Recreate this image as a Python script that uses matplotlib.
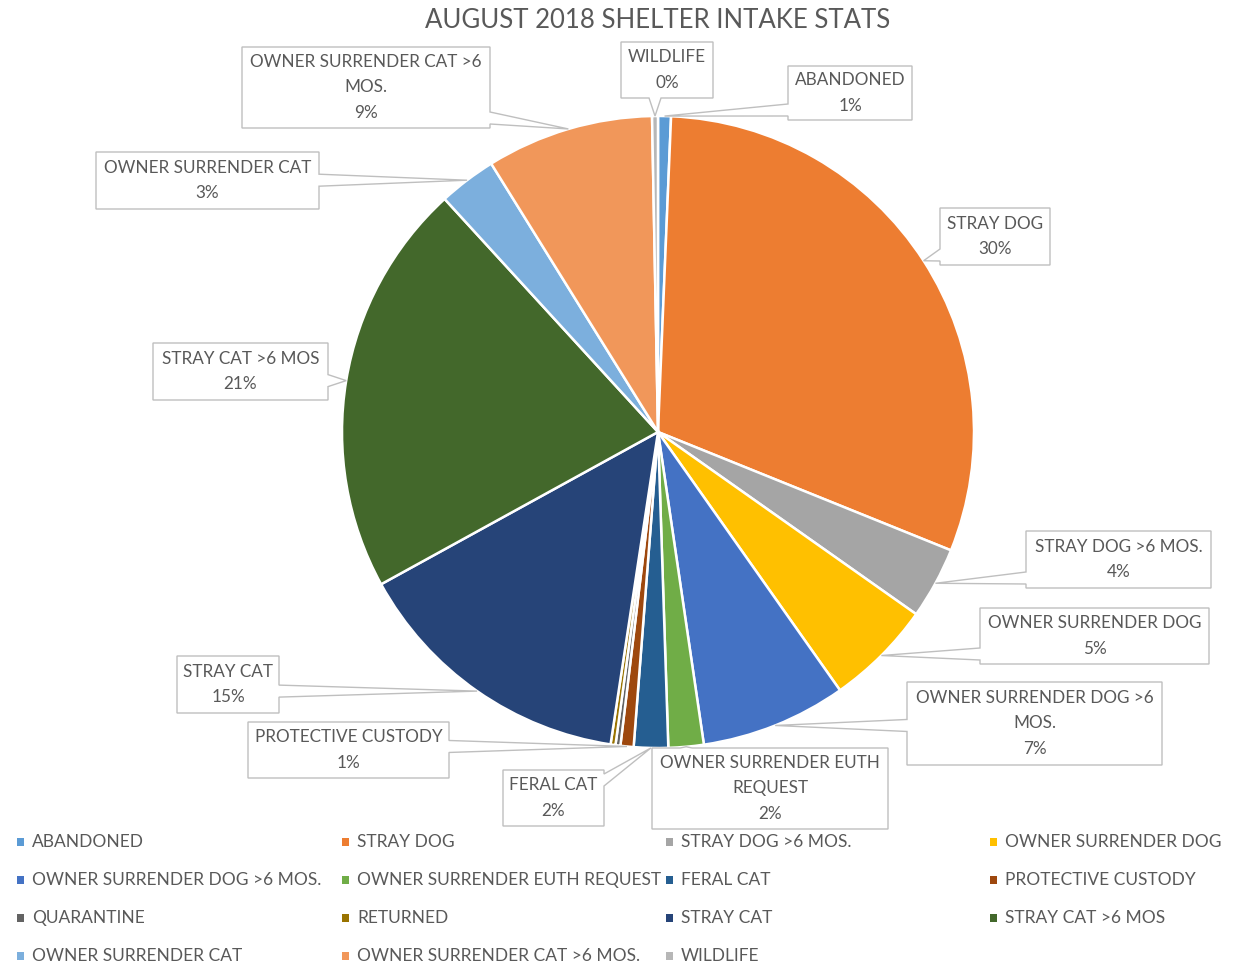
import matplotlib
matplotlib.use("Agg")
import matplotlib.pyplot as plt
from matplotlib.patches import Polygon, Rectangle
import numpy as np

plt.rcParams['font.family'] = ['Lato', 'DejaVu Sans']

categories = ["ABANDONED", "STRAY DOG", "STRAY DOG >6 MOS.", "OWNER SURRENDER DOG",
              "OWNER SURRENDER DOG >6 MOS.", "OWNER SURRENDER EUTH REQUEST", "FERAL CAT",
              "PROTECTIVE CUSTODY", "QUARANTINE", "RETURNED", "STRAY CAT", "STRAY CAT >6 MOS",
              "OWNER SURRENDER CAT", "OWNER SURRENDER CAT >6 MOS.", "WILDLIFE"]
# share of intake, percent (estimated from the slices)
shares = [0.66, 30.45, 3.67, 5.45, 7.45, 1.8, 1.75, 0.67, 0.25, 0.25, 14.6, 21.2, 2.95, 8.55, 0.3]
colors = ["#5B9BD5", "#ED7D31", "#A5A5A5", "#FFC000", "#4472C4", "#70AD47", "#255E91",
          "#9E480E", "#636363", "#997300", "#264478", "#43682B", "#7CAFDD", "#F1975A", "#B7B7B7"]
title = "AUGUST 2018 SHELTER INTAKE STATS"

# wrapped label text for the callouts (None = no label)
label_text = ["ABANDONED", "STRAY DOG", "STRAY DOG >6 MOS.", "OWNER SURRENDER DOG",
              "OWNER SURRENDER DOG >6\nMOS.", "OWNER SURRENDER EUTH\nREQUEST", "FERAL CAT",
              "PROTECTIVE CUSTODY", None, None, "STRAY CAT", "STRAY CAT >6 MOS",
              "OWNER SURRENDER CAT", "OWNER SURRENDER CAT >6\nMOS.", "WILDLIFE"]
# callout boxes in pixel coords (left, top, right, bottom)
boxes = [(788, 66, 912, 120), (940, 208, 1050, 265), (1026, 531, 1211, 588),
         (980, 608, 1209, 664), (907, 682, 1162, 765), (652, 748, 888, 829),
         (503, 770, 604, 826), (248, 722, 449, 778), None, None,
         (177, 656, 279, 713), (153, 343, 328, 400), (96, 152, 319, 209),
         (242, 47, 490, 128), (621, 42, 713, 98)]

W, H = 1234, 966
fig = plt.figure(figsize=(12.34, 9.66), dpi=100)
ax = fig.add_axes([0, 0, 1, 1])

def P(x, y):
    return (x, H - y)

cx, cy, R = 658, 432, 316
wedges, _ = ax.pie(shares, colors=colors, startangle=90, counterclock=False,
                   center=P(cx, cy), radius=R,
                   wedgeprops=dict(edgecolor="white", linewidth=1.8))
ax.set_xlim(0, W)
ax.set_ylim(0, H)
ax.set_aspect('equal')
ax.axis('off')

total = sum(shares)
text_color = "#595959"
edge_gray = "#BFBFBF"

for i, w in enumerate(wedges):
    if label_text[i] is None:
        continue
    l, t, r, b = boxes[i]
    mid = np.deg2rad((w.theta1 + w.theta2) / 2)
    tx = cx + R * np.cos(mid)
    ty = cy - R * np.sin(mid)
    hw = 6
    inside_x = l <= tx <= r
    inside_y = t <= ty <= b
    if inside_x and inside_y:
        pts = [(l, t), (r, t), (r, b), (l, b)]
    else:
        dx = max(l - tx, tx - r, 0)
        dy = max(t - ty, ty - b, 0)
        if dx >= dy:
            by = min(max(ty, t + hw + 4), b - hw - 4)
            if tx < l:
                pts = [(l, t), (r, t), (r, b), (l, b), (l, by + hw), (tx, ty), (l, by - hw)]
            else:
                pts = [(l, t), (r, t), (r, by - hw), (tx, ty), (r, by + hw), (r, b), (l, b)]
        else:
            bx = min(max(tx, l + hw + 4), r - hw - 4)
            if ty < t:
                pts = [(l, t), (bx - hw, t), (tx, ty), (bx + hw, t), (r, t), (r, b), (l, b)]
            else:
                pts = [(l, t), (r, t), (r, b), (bx + hw, b), (tx, ty), (bx - hw, b), (l, b)]
    poly = Polygon([P(x, y) for x, y in pts], closed=True, facecolor="white",
                   edgecolor=edge_gray, linewidth=1.0, zorder=3)
    ax.add_patch(poly)
    pct = round(100 * shares[i] / total)
    ax.text(*P((l + r) / 2, (t + b) / 2), f"{label_text[i]}\n{pct}%",
            ha="center", va="center", fontsize=12.3, color=text_color,
            linespacing=1.72, zorder=4)

ax.text(*P(658, 20), title, ha="center", va="center", fontsize=18.5, color=text_color)

# legend, row-wise, 4 columns
col_x = [20, 345, 669, 993]
row_y = [842, 880, 918, 956]
for i, name in enumerate(categories):
    rr, cc = divmod(i, 4)
    x, y = col_x[cc], row_y[rr]
    ax.add_patch(Rectangle(P(x - 3.5, y + 4), 7.5, 8, facecolor=colors[i],
                           edgecolor="none", zorder=3))
    ax.text(*P(x + 12, y), name, ha="left", va="center", fontsize=12.5,
            color=text_color)

fig.savefig("out.png", dpi=100, facecolor="white")
